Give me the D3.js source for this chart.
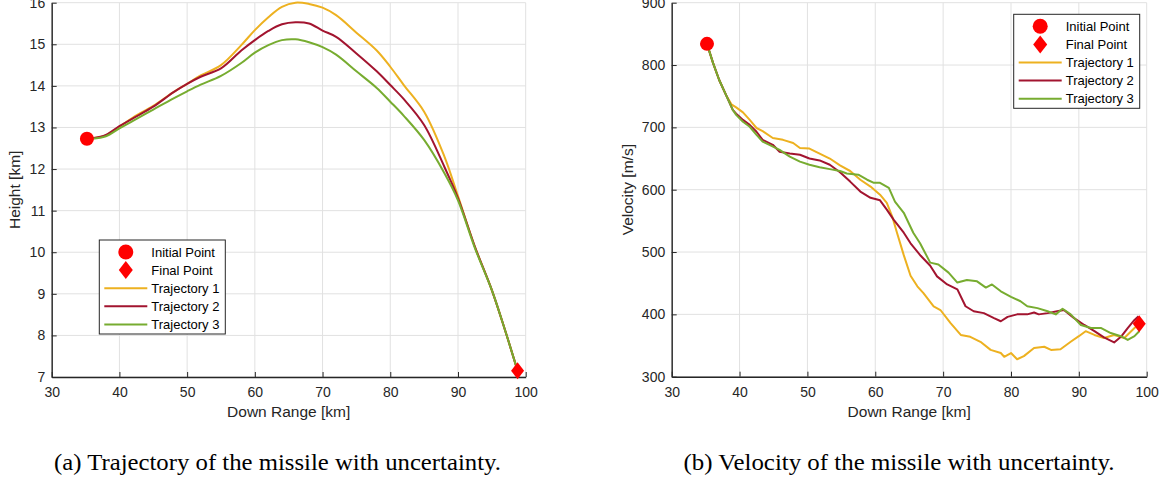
<!DOCTYPE html>
<html>
<head>
<meta charset="utf-8">
<script src="https://cdn.jsdelivr.net/npm/d3@7"></script>
<style>
  body { margin: 0; background: #fff; }
  svg { display: block; }
  .tick text { font-family: "Liberation Sans", Arial, Helvetica, sans-serif; font-size: 14px; fill: #262626; }
  .axis path, .axis line { stroke: #262626; }
  .axis-label { font-family: "Liberation Sans", Arial, Helvetica, sans-serif; font-size: 15.5px; fill: #262626; }
  .legend text { font-family: "Liberation Sans", Arial, Helvetica, sans-serif; font-size: 13px; fill: #000; }
  .caption { font-family: "Liberation Serif", "Times New Roman", Times, serif; font-size: 23px; fill: #000; }
</style>
</head>
<body>
<script>
// Trajectory colours (MATLAB defaults)
const seriesNames = ["Trajectory 1", "Trajectory 2", "Trajectory 3"];
const seriesColors = ["#EDB120", "#A2142F", "#77AC30"];

// (a) height [km] against down range [km]
const height1 = [[35.2,12.73],[36,12.74],[38,12.81],[40,13.02],[42,13.24],[45,13.52],[48,13.85],[50,14.05],[52,14.25],[55,14.5],[58,14.98],[60,15.34],[62,15.65],[64,15.9],[66,16.0],[68,15.97],[70,15.88],[72,15.7],[75,15.28],[78,14.85],[80,14.46],[82,14.02],[85,13.38],[88,12.3],[90,11.35],[92.5,10.13],[95,9.09],[97,8.1],[98.8,7.15]];
const height2 = [[35.2,12.73],[36,12.74],[38,12.82],[40,13.03],[42,13.22],[45,13.5],[48,13.85],[50,14.05],[52,14.22],[55,14.42],[58,14.85],[60,15.1],[62,15.32],[64,15.48],[66,15.53],[68,15.5],[70,15.33],[72,15.18],[75,14.78],[78,14.35],[80,14.02],[82,13.68],[85,13.06],[88,12.05],[90,11.3],[92.5,10.13],[95,9.09],[97,8.1],[98.8,7.15]];
const height3 = [[35.2,12.73],[36,12.73],[38,12.79],[40,12.98],[42,13.16],[45,13.43],[48,13.7],[50,13.87],[52,14.03],[55,14.24],[58,14.55],[60,14.8],[62,14.98],[64,15.1],[66,15.12],[68,15.05],[70,14.93],[72,14.75],[75,14.35],[78,13.95],[80,13.62],[82,13.28],[85,12.7],[88,11.9],[90,11.25],[92.5,10.1],[95,9.09],[97,8.1],[98.8,7.15]];

// (b) velocity [m/s] against down range [km]
const velocity1 = [[35.2,834],[36.1,803],[37,776],[38,752],[38.8,737],[39.5,732],[40.5,724],[41.5,712],[42.5,699],[43.4,694],[44.9,683],[46.4,680],[47.9,675],[48.9,667],[50.3,666],[51.8,658],[53.3,650],[54.8,639],[56.3,630],[57.8,616],[59.3,605],[60.7,592],[61.7,579],[62.5,557],[63.2,531],[64.2,495],[65.2,462],[66.2,445],[67.1,434],[68.6,413],[69.6,407],[71.1,386],[72.6,367],[74,364],[75.5,356],[77,343],[78.5,338],[79,332],[80,338],[80.9,328],[81.9,333],[83.4,346],[84.9,348],[85.9,343],[87.3,344],[88.8,356],[90,365],[91,373],[92.3,367],[93.7,362],[95.2,367],[96.7,362],[98.2,378],[98.9,386]];
const velocity2 = [[35.2,834],[36.1,803],[37,776],[38,752],[39,728],[39.5,722],[40.5,712],[41.5,704],[42.5,693],[43.4,680],[44.9,672],[45.9,661],[47.4,658],[48.9,656],[50.3,650],[51.8,647],[53.3,640],[54.8,628],[56.3,613],[57.8,597],[59.3,587],[60.7,583],[61.7,568],[62.7,552],[64.2,531],[65.2,514],[66.7,494],[68.1,478],[69.1,461],[70.6,448],[72.1,440],[73.3,413],[74.5,405],[76,402],[77.5,394],[78.5,389],[79.5,396],[80.9,400],[82.4,400],[83.4,403],[84.1,400],[85.4,402],[86.8,405],[87.8,407],[89.3,394],[90.8,383],[92.3,373],[93.7,363],[95.2,355],[96.2,364],[97.2,378],[98.2,391],[98.8,397]];
const velocity3 = [[35.2,834],[36.1,803],[37,776],[38,752],[39,728],[39.5,720],[40.5,709],[41.5,701],[42.5,688],[43.4,677],[44.4,672],[45.9,664],[47.4,653],[48.9,645],[50.3,640],[51.8,636],[53.3,633],[54.8,630],[55.8,626],[57.5,624],[58.8,616],[59.8,611],[60.7,611],[62,603],[62.9,581],[64.2,563],[65.6,531],[66.6,514],[68.1,483],[69.3,480],[70.8,467],[72.1,451],[73.5,455],[75,453],[76.3,443],[77.2,448],[78.5,437],[80,428],[81.4,421],[82.4,413],[83.9,410],[85.4,405],[86.6,400],[87.6,409],[88.8,400],[90.3,383],[91.8,378],[93.3,378],[94.7,370],[96.2,365],[97.2,359],[98.2,365],[98.9,373]];

// start / end markers
const heightInitial = [35.2, 12.73];
const heightFinal = [98.8, 7.15];
const velocityInitial = [35.2, 834];
const velocityFinal = [98.9, 385];

// axis ticks
const xTicks = [30, 40, 50, 60, 70, 80, 90, 100];
const heightTicks = [7, 8, 9, 10, 11, 12, 13, 14, 15, 16];
const velocityTicks = [300, 400, 500, 600, 700, 800, 900];

const legendLabels = ["Initial Point", "Final Point"].concat(seriesNames);

const svg = d3.select("body").append("svg")
  .attr("width", 1165)
  .attr("height", 484);

function diamond(g, cx, cy, w, h) {
  g.append("path")
    .attr("d", `M${cx},${cy - h / 2}L${cx + w / 2},${cy}L${cx},${cy + h / 2}L${cx - w / 2},${cy}Z`)
    .attr("fill", "#ff0000");
}

function drawPanel(p) {
  const x = d3.scaleLinear().domain([30, 100]).range([p.left, p.right]);
  const y = d3.scaleLinear().domain(p.yDomain).range([p.bottom, p.top]);
  const g = svg.append("g");

  // grid
  g.append("g").selectAll("line").data(xTicks).enter().append("line")
    .attr("x1", d => x(d)).attr("x2", d => x(d))
    .attr("y1", p.top).attr("y2", p.bottom)
    .attr("stroke", "#e1e1e1").attr("stroke-width", 1);
  g.append("g").selectAll("line").data(p.yTicks).enter().append("line")
    .attr("x1", p.left).attr("x2", p.right)
    .attr("y1", d => y(d)).attr("y2", d => y(d))
    .attr("stroke", "#e1e1e1").attr("stroke-width", 1);

  // lines
  const line = d3.line().x(d => x(d[0])).y(d => y(d[1])).curve(p.curve);
  p.series.forEach((s, i) => {
    g.append("path")
      .datum(s)
      .attr("d", line)
      .attr("fill", "none")
      .attr("stroke", seriesColors[i])
      .attr("stroke-width", 2)
      .attr("stroke-linejoin", "round");
  });

  // axes
  g.append("g")
    .attr("class", "axis")
    .attr("transform", `translate(0,${p.bottom})`)
    .call(d3.axisBottom(x).tickValues(xTicks).tickSize(-5).tickSizeOuter(0).tickPadding(10))
    .call(a => a.select(".domain").attr("stroke-width", 1.4));
  g.append("g")
    .attr("class", "axis")
    .attr("transform", `translate(${p.left},0)`)
    .call(d3.axisLeft(y).tickValues(p.yTicks).tickSize(-5).tickSizeOuter(0).tickPadding(6.5))
    .call(a => a.select(".domain").attr("stroke-width", 1.4));

  // markers
  g.append("circle")
    .attr("cx", x(p.initial[0])).attr("cy", y(p.initial[1]))
    .attr("r", 7).attr("fill", "#ff0000");
  diamond(g, x(p.final[0]), y(p.final[1]), 13, 17);

  // axis labels
  g.append("text")
    .attr("class", "axis-label")
    .attr("x", (p.left + p.right) / 2)
    .attr("y", p.bottom + 40)
    .attr("text-anchor", "middle")
    .text("Down Range [km]");
  g.append("text")
    .attr("class", "axis-label")
    .attr("transform", `translate(${p.yLabelX},${(p.top + p.bottom) / 2}) rotate(-90)`)
    .attr("text-anchor", "middle")
    .text(p.yLabel);

  // legend
  const lg = g.append("g").attr("class", "legend")
    .attr("transform", `translate(${p.legend[0]},${p.legend[1]})`);
  lg.append("rect")
    .attr("width", 126).attr("height", 94)
    .attr("fill", "#fff").attr("stroke", "#262626").attr("stroke-width", 1);
  legendLabels.forEach((label, i) => {
    const cy = 12 + i * 18.1;
    if (i === 0) {
      lg.append("circle").attr("cx", 26.5).attr("cy", cy).attr("r", 7.5).attr("fill", "#ff0000");
    } else if (i === 1) {
      diamond(lg, 26.5, cy, 14, 18);
    } else {
      lg.append("line")
        .attr("x1", 5).attr("x2", 48)
        .attr("y1", cy).attr("y2", cy)
        .attr("stroke", seriesColors[i - 2]).attr("stroke-width", 2);
    }
    lg.append("text")
      .attr("x", 52).attr("y", cy)
      .attr("dy", "0.35em")
      .text(label);
  });

  // caption
  g.append("text")
    .attr("class", "caption")
    .attr("x", p.caption[0]).attr("y", 470)
    .attr("textLength", p.caption[1])
    .attr("lengthAdjust", "spacingAndGlyphs")
    .text(p.captionText);
}

drawPanel({
  left: 51.7, right: 525.7, top: 2.7, bottom: 377,
  yDomain: [7, 16], yTicks: heightTicks,
  series: [height1, height2, height3],
  curve: d3.curveCatmullRom.alpha(0.5),
  initial: heightInitial, final: heightFinal,
  yLabel: "Height [km]", yLabelX: 20,
  legend: [99.3, 240],
  caption: [54, 447],
  captionText: "(a) Trajectory of the missile with uncertainty."
});

drawPanel({
  left: 671.7, right: 1146.7, top: 2.7, bottom: 376.7,
  yDomain: [300, 900], yTicks: velocityTicks,
  series: [velocity1, velocity2, velocity3],
  curve: d3.curveLinear,
  initial: velocityInitial, final: velocityFinal,
  yLabel: "Velocity [m/s]", yLabelX: 633,
  legend: [1013.7, 14.3],
  caption: [683.5, 431],
  captionText: "(b) Velocity of the missile with uncertainty."
});
</script>
</body>
</html>
